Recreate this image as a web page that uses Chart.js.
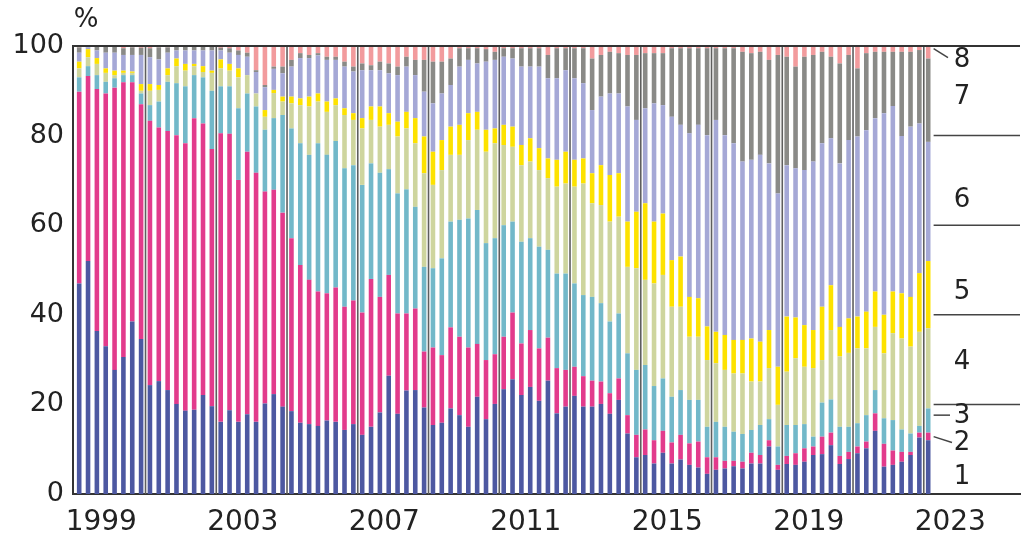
<!DOCTYPE html>
<html>
<head>
<meta charset="utf-8">
<script src="https://cdn.jsdelivr.net/npm/chart.js@4"></script>
<style>
  body { margin: 0; background: #fff; }
  #wrap { width: 1024px; height: 542px; }
</style>
</head>
<body>
<div id="wrap"><canvas id="chart" width="1024" height="542"></canvas></div>
<script>
// quarterly shares (%) of the eight groups, 1999Q1 .. 2023Q1
const groupNames = ['1', '2', '3', '4', '5', '6', '7', '8'];

const quarters = [];
for (let yr = 1999; yr <= 2023; yr++) {
    for (let q = 1; q <= 4; q++) {
        if (yr === 2023 && q > 1) break;
        quarters.push(yr + 'Q' + q);
    }
}

const labelYears = [1999, 2003, 2007, 2011, 2015, 2019, 2023];
const separatorYears = [2001, 2003, 2005, 2007, 2009, 2011, 2013, 2015, 2017, 2019, 2021, 2023];
const yTicks = [0, 20, 40, 60, 80, 100];

const group1 = [
    47, 52, 36.4, 33, 27.7, 30.6, 38.5, 34.6,
    24.3, 25.2, 23.2, 20.1, 18.6, 18.8, 22.1, 19.6,
    16.1, 18.7, 16.1, 17.8, 16.1, 20.2, 22.3, 19.5,
    18.5, 15.9, 15.6, 15.2, 16.4, 16.1, 14.3, 15.6,
    13.2, 15, 18.2, 26.4, 17.9, 23.1, 23.2, 19.3,
    15.4, 15.9, 19.1, 17.6, 15, 21.7, 16.7, 20.1,
    23.4, 25.6, 22.1, 23.9, 20.8, 25.3, 18, 19.5,
    21.9, 19.5, 19.5, 20.1, 17.9, 21, 13.5, 8.2,
    8.7, 6.8, 9.2, 6.8, 7.7, 6.5, 5.9, 4.5,
    5.4, 5.7, 6.2, 5.7, 6.8, 6.8, 10.6, 5.4,
    6.7, 6.5, 7.2, 8.7, 8.9, 10.9, 6.7, 7.8,
    9.1, 10.2, 14.1, 6.1, 6.5, 7.2, 8.7, 12.6,
    12
];
const group2 = [
    42.8, 41.3, 54, 56.4, 63, 61.3, 53.4, 52.4,
    59, 56.6, 57.8, 60, 59.7, 65.1, 60.6, 57.4,
    64.4, 61.7, 54, 58.6, 55.6, 47.3, 45.6, 43.3,
    38.6, 35.2, 32.2, 30, 28.4, 30, 27.5, 27.6,
    27.3, 33, 25.8, 22.5, 22.4, 17.2, 18.2, 12.5,
    17.3, 15.1, 18.1, 17.5, 17.7, 11.8, 13.2, 11.1,
    11.7, 14.9, 11.5, 12.7, 11.7, 9.6, 10.1, 8.2,
    6.5, 6.8, 5.8, 5, 4.6, 4.8, 4.1, 5,
    5.7, 5.2, 4.9, 4.7, 5.5, 4.8, 5.8, 3.7,
    2.8, 1.7, 1.2, 1.5, 2.4, 1.9, 1.4, 1.1,
    1.8, 2.6, 3, 1.9, 3.9, 2.8, 1.8, 1.6,
    1.5, 1.5, 3.9, 5.1, 3.2, 2.2, 0.7, 1.1,
    1.7
];
const group3 = [
    3.2, 2.2, 3.1, 2.6, 2.1, 1.6, 1.6, 2.4,
    3.5, 5.8, 11, 11.6, 12.7, 9.6, 10.3, 13,
    10.5, 10.6, 16, 13, 14.8, 13.8, 16, 21.8,
    24.5, 27.2, 27.9, 33.1, 30.9, 32.7, 30.9, 30.2,
    28.5, 25.8, 27.7, 23.6, 26.8, 27.7, 22.7, 18.9,
    17.7, 21.6, 23.6, 26.1, 28.8, 29.9, 26.1, 25.9,
    24.9, 20.3, 22.7, 20.5, 22.7, 19.6, 21.1, 21.5,
    18.6, 18.1, 18.7, 17.5, 16, 14.5, 13.8, 14.5,
    14.4, 12.1, 11.7, 10.2, 10, 9.7, 9.3, 6.8,
    7.9, 7.6, 6.5, 6.2, 5.1, 6.7, 4.7, 4.1,
    6.9, 6.3, 5.4, 2.2, 7.6, 7.4, 6.5, 5.6,
    5.2, 5.9, 5.2, 5.7, 6.8, 5, 4.1, 1.5,
    5.4
];
const group4 = [
    2, 2, 2.5, 2, 0.7, 0.5, 0.5, 0.6,
    3.2, 2.6, 1.5, 3.8, 3.5, 2, 1.2, 4,
    4, 3.5, 6.9, 4.1, 2.9, 2.9, 5.6, 3,
    5.6, 8.5, 10.8, 9.3, 9.6, 8, 11.9, 10.1,
    12.6, 9.7, 10.3, 9.9, 12.7, 13.6, 14.2, 20.9,
    18.6, 19.7, 14.9, 14.5, 17.5, 17.9, 20.4, 21.2,
    17.9, 16.7, 17.1, 17.1, 17.1, 16, 19.4, 20.1,
    21.6, 24.9, 20.9, 21.9, 22.3, 21.6, 19.3, 22.7,
    19, 22.9, 23.1, 20.1, 18.6, 14.1, 14.1, 14.9,
    13.1, 12.7, 13, 13.5, 10.8, 9.7, 11.4, 9.3,
    11.9, 14.9, 12.8, 15.3, 9.5, 15.5, 15.7, 16.5,
    16.7, 14.9, 14.1, 14.5, 19.4, 20.3, 19.4, 21,
    17.9
];
const group5 = [
    1.5, 1.8, 1.3, 1, 1, 0.5, 0.3, 1.5,
    1.5, 1.1, 1.5, 1.7, 1.5, 0.5, 1.3, 0.5,
    2, 1.5, 2, 0, 0, 1.5, 0.7, 1.1,
    1.5, 1.5, 2.2, 1.8, 2.3, 1.5, 1.5, 1.5,
    2.3, 3, 4.5, 2.6, 3.3, 3.7, 5.6, 8.2,
    7.4, 6.7, 6.3, 6.7, 6, 4, 4.9, 3.3,
    4.5, 4.5, 4.5, 5.2, 4.9, 4.4, 6, 7.1,
    6, 5.6, 6.7, 8.9, 10.4, 9.7, 10.1, 12.6,
    17.1, 13.8, 13.7, 10.4, 11.2, 8.9, 8.6, 7.5,
    7, 7.8, 7.5, 7.5, 9.6, 8.9, 8.5, 8.5,
    12.3, 9.1, 9.3, 8.5, 11.9, 10, 6.6, 7.7,
    7.1, 8.2, 7.9, 8.6, 9.3, 10.1, 11.1, 13.1,
    15
];
const group6 = [
    2, 0.4, 1.7, 3.5, 4, 3.5, 3.7, 6.5,
    6, 5.7, 3.5, 1.8, 3, 3, 3.5, 4.5,
    2, 2.5, 3, 4.1, 4.8, 5.1, 4.7, 5.2,
    6.7, 9, 8.6, 8.5, 9.3, 8.6, 9.3, 9.3,
    10.7, 8.1, 8.1, 8.9, 10.4, 10.1, 9.6, 10,
    10.8, 10.4, 9.3, 13, 11.9, 10.8, 15.2, 15.3,
    15.2, 15.2, 17.5, 16, 18.2, 17.9, 18.2, 18.2,
    18.2, 16.8, 14.1, 15.3, 18.2, 17.8, 25.7, 20.5,
    21.2, 26.4, 24.2, 32, 29.4, 36.5, 38.7, 42.7,
    47.3, 44.6, 43.9, 39.8, 39.9, 41.7, 37.2, 38.7,
    33.8, 33.3, 34.6, 37.6, 36.5, 32.8, 36.5, 39.8,
    40.2, 40.5, 38.7, 45, 41.4, 35.1, 38, 33.4,
    26.6
];
const group7 = [
    1.2, 0.3, 0.8, 1.3, 1.3, 1.5, 1.7, 1.6,
    2, 2.7, 1.2, 0.8, 0.8, 0.8, 0.8, 0.8,
    0.6, 1, 1, 0.9, 0.4, 0.5, 0.5, 1.5,
    1.5, 1.1, 0.7, 0.5, 0.7, 0.7, 1.1, 1.1,
    1.5, 1.1, 1.9, 2.2, 1.9, 2.2, 3.4, 7.1,
    9.3, 7.1, 5.9, 4.1, 2.6, 3.4, 2.8, 1.8,
    1.9, 2.3, 4.1, 4.1, 4.1, 5.2, 6.7, 4.9,
    6.7, 7.8, 11.5, 9.3, 9.3, 9, 11.5, 14.5,
    12.3, 11.2, 11.6, 15.3, 17.1, 19, 17.1, 19.4,
    16, 19.4, 21.2, 24.5, 23.8, 23, 23.1, 30.9,
    24.2, 22.7, 25.3, 23.8, 20.4, 18.2, 22.3, 19,
    15.2, 17.2, 14.8, 13.7, 12.1, 18.8, 16.7, 16.4,
    18.6
];
const group8 = [
    0.3, 0, 0.2, 0.2, 0.2, 0.5, 0.3, 0.4,
    0.5, 0.3, 0.3, 0.2, 0.2, 0.2, 0.2, 0.2,
    0.4, 0.5, 1, 1.5, 5.4, 8.7, 4.6, 4.6,
    3.1, 1.6, 2, 1.6, 2.4, 2.4, 3.5, 4.6,
    3.9, 4.3, 3.5, 3.9, 4.6, 2.4, 3.1, 3.1,
    3.5, 3.5, 2.8, 0.5, 0.5, 0.5, 0.7, 1.3,
    0.5, 0.5, 0.5, 0.5, 0.5, 2, 0.5, 0.5,
    0.5, 0.5, 2.8, 2, 1.3, 1.6, 2, 2,
    1.6, 1.6, 1.6, 0.5, 0.5, 0.5, 0.5, 0.5,
    0.5, 0.5, 0.5, 1.3, 1.6, 1.3, 3.1, 2,
    2.4, 4.6, 2.4, 2, 1.3, 2.4, 3.9, 2,
    5, 1.6, 1.3, 1.3, 1.3, 1.3, 1.3, 0.9,
    2.8
];

const groups = [group1, group2, group3, group4, group5, group6, group7, group8];
const colors = ['#4d58a1', '#e23b8c', '#72b8c9', '#ced59e', '#fde200', '#a5a8d6', '#8a8a87', '#f29b9d'];

const fontFamily = '"DejaVu Sans", sans-serif';

// centre of each quarter on a continuous year axis
function quarterPos(label) {
    var yr = parseInt(label.slice(0, 4), 10);
    var q = parseInt(label.slice(5), 10);
    return yr + (q - 0.5) / 4;
}

// right-hand labels, separators and leader lines, year dividers, top frame
const overlay = {
    id: 'overlay',
    afterDatasetsDraw(chart) {
        var ctx = chart.ctx;
        var area = chart.chartArea;
        var x = chart.scales.x;
        var y = chart.scales.y;
        ctx.save();

        ctx.strokeStyle = '#5e5e5e';
        ctx.lineWidth = 1.6;
        separatorYears.forEach(function(yr) {
            var px = x.getPixelForValue(yr);
            ctx.beginPath();
            ctx.moveTo(px, area.top);
            ctx.lineTo(px, area.bottom);
            ctx.stroke();
        });

        ctx.strokeStyle = '#333';
        ctx.lineWidth = 2;
        ctx.beginPath();
        ctx.moveTo(area.left - 1, area.top);
        ctx.lineTo(area.right, area.top);
        ctx.stroke();

        var edge = x.getPixelForValue(2023.25) + 1;
        ctx.strokeStyle = '#444';
        ctx.lineWidth = 1.5;
        [20, 40, 60, 80].forEach(function(v) {
            var py = y.getPixelForValue(v);
            ctx.beginPath();
            ctx.moveTo(edge, py);
            ctx.lineTo(area.right, py);
            ctx.stroke();
        });

        // leaders for the thin segments of the last bar
        var leaders = [[12.8, 11.5, 952], [17.6, 17.6, 950], [99.4, 97.4, 948]];
        leaders.forEach(function(l) {
            ctx.beginPath();
            ctx.moveTo(edge, y.getPixelForValue(l[0]));
            ctx.lineTo(l[2], y.getPixelForValue(l[1]));
            ctx.stroke();
        });

        var labelAt = [3.8, 11.3, 17.3, 29.5, 45, 65.6, 88.5, 96.9];
        ctx.fillStyle = '#222';
        ctx.font = '26px ' + fontFamily;
        ctx.textAlign = 'center';
        ctx.textBaseline = 'middle';
        labelAt.forEach(function(v, i) {
            ctx.fillText(groupNames[i], 962, y.getPixelForValue(v));
        });

        ctx.fillText('%', 86, 20);
        ctx.restore();
    }
};

var datasets = groups.map(function(values, i) {
    return {
        label: groupNames[i],
        data: values.map(function(v, j) { return { x: quarterPos(quarters[j]), y: v }; }),
        backgroundColor: colors[i],
        borderWidth: 0,
        inflateAmount: 0,
        barPercentage: 0.52,
        categoryPercentage: 1.0
    };
});

new Chart(document.getElementById('chart'), {
    type: 'bar',
    data: { datasets: datasets },
    options: {
        responsive: false,
        animation: false,
        layout: { padding: { top: 46, right: 4, left: 0, bottom: 0 } },
        plugins: {
            legend: { display: false },
            tooltip: { enabled: false }
        },
        scales: {
            x: {
                type: 'linear',
                stacked: true,
                offset: false,
                min: 1998.95,
                max: 2025.72,
                grid: { display: false, drawTicks: false },
                border: { display: true, color: '#333', width: 2 },
                afterBuildTicks: function(scale) {
                    scale.ticks = labelYears.map(function(yr) { return { value: yr + 0.75 }; });
                },
                afterFit: function(scale) { scale.height = 48; },
                ticks: {
                    autoSkip: false,
                    maxRotation: 0,
                    padding: 12,
                    color: '#222',
                    font: { family: fontFamily, size: 28 },
                    callback: function(value) { return String(Math.floor(value)); }
                }
            },
            y: {
                stacked: true,
                min: 0,
                max: 100,
                grid: { display: false, drawTicks: false },
                border: { display: true, color: '#333', width: 2 },
                afterBuildTicks: function(scale) {
                    scale.ticks = yTicks.map(function(v) { return { value: v }; });
                },
                afterFit: function(scale) { scale.width = 73; },
                ticks: {
                    padding: 9,
                    color: '#222',
                    font: { family: fontFamily, size: 27 }
                }
            }
        }
    },
    plugins: [overlay]
});
</script>
</body>
</html>
